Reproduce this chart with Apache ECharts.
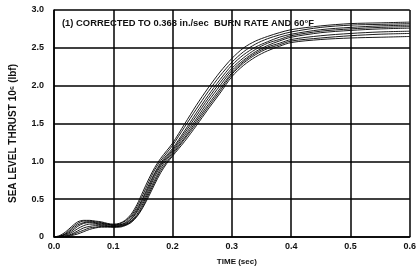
<!DOCTYPE html>
<html>
<head>
<meta charset="utf-8">
<script src="https://cdn.jsdelivr.net/npm/echarts@6/dist/echarts.min.js"></script>
<style>
  html, body { margin: 0; padding: 0; background: #fff; }
  #chart { width: 419px; height: 271px; }
</style>
</head>
<body>
<div id="chart"></div>
<script>
    // time points (sec)
    var times = [0, 0.01, 0.02, 0.03, 0.04, 0.05, 0.06, 0.07, 0.08, 0.09, 0.10, 0.11, 0.12, 0.13, 0.14,
        0.15, 0.16, 0.17, 0.18, 0.19, 0.20, 0.22, 0.24, 0.26, 0.28, 0.30, 0.32, 0.34, 0.36, 0.38,
        0.40, 0.45, 0.50, 0.55, 0.60];

    // thrust, 10^6 lbf, one array per motor
    var motorA = [0, 0.02, 0.07, 0.14, 0.20, 0.22, 0.22, 0.21, 0.20, 0.18, 0.17, 0.18, 0.22, 0.30, 0.43,
        0.60, 0.77, 0.92, 1.04, 1.14, 1.24, 1.49, 1.74, 1.97, 2.18, 2.36, 2.50, 2.59, 2.65, 2.70,
        2.74, 2.79, 2.82, 2.83, 2.84];
    var motorB = [0, 0.01, 0.05, 0.12, 0.18, 0.21, 0.21, 0.20, 0.19, 0.17, 0.16, 0.17, 0.21, 0.28, 0.40,
        0.56, 0.73, 0.89, 1.01, 1.11, 1.21, 1.45, 1.69, 1.92, 2.13, 2.31, 2.45, 2.55, 2.62, 2.67,
        2.71, 2.77, 2.80, 2.81, 2.82];
    var motorC = [0, 0.01, 0.04, 0.10, 0.16, 0.19, 0.20, 0.19, 0.18, 0.17, 0.16, 0.16, 0.19, 0.26, 0.37,
        0.52, 0.69, 0.85, 0.98, 1.08, 1.17, 1.40, 1.64, 1.87, 2.08, 2.27, 2.41, 2.51, 2.58, 2.64,
        2.68, 2.74, 2.77, 2.79, 2.80];
    var motorD = [0, 0.01, 0.03, 0.08, 0.14, 0.18, 0.19, 0.18, 0.17, 0.16, 0.15, 0.16, 0.18, 0.24, 0.35,
        0.50, 0.66, 0.83, 0.96, 1.06, 1.15, 1.37, 1.60, 1.83, 2.04, 2.23, 2.37, 2.48, 2.56, 2.61,
        2.66, 2.72, 2.75, 2.77, 2.78];
    var motorE = [0, 0.00, 0.02, 0.06, 0.11, 0.15, 0.17, 0.17, 0.16, 0.15, 0.14, 0.15, 0.17, 0.23, 0.33,
        0.47, 0.63, 0.80, 0.94, 1.04, 1.13, 1.34, 1.56, 1.79, 2.00, 2.20, 2.34, 2.45, 2.53, 2.59,
        2.64, 2.70, 2.73, 2.75, 2.76];
    var motorF = [0, 0.00, 0.01, 0.04, 0.08, 0.12, 0.14, 0.15, 0.15, 0.14, 0.14, 0.14, 0.16, 0.21, 0.30,
        0.44, 0.60, 0.76, 0.91, 1.02, 1.11, 1.31, 1.53, 1.75, 1.96, 2.17, 2.32, 2.43, 2.51, 2.56,
        2.61, 2.66, 2.69, 2.71, 2.72];
    var motorG = [0, 0.00, 0.01, 0.03, 0.06, 0.09, 0.12, 0.13, 0.14, 0.14, 0.13, 0.14, 0.16, 0.20, 0.28,
        0.41, 0.57, 0.73, 0.88, 0.99, 1.09, 1.29, 1.50, 1.72, 1.93, 2.15, 2.30, 2.41, 2.49, 2.54,
        2.59, 2.63, 2.66, 2.68, 2.69];
    var motorH = [0, 0.00, 0.00, 0.02, 0.04, 0.07, 0.10, 0.12, 0.13, 0.13, 0.13, 0.13, 0.15, 0.19, 0.27,
        0.39, 0.54, 0.70, 0.85, 0.97, 1.07, 1.26, 1.47, 1.69, 1.90, 2.12, 2.27, 2.38, 2.46, 2.52,
        2.57, 2.61, 2.63, 2.64, 2.65];

    var motors = [motorA, motorB, motorC, motorD, motorE, motorF, motorG, motorH];

    var note = '(1) CORRECTED TO 0.368 in./sec  BURN RATE AND 60\u00B0F';

    var font = 'Liberation Sans';

    function build_series() {
        return motors.map(function (vals) {
            return {
                type: 'line',
                data: times.map(function (t, i) { return [t, vals[i]]; }),
                smooth: 0.3,
                showSymbol: false,
                lineStyle: { color: '#000', width: 0.9 }
            };
        });
    }

    var chart = echarts.init(document.getElementById('chart'));
    chart.setOption({
        animation: false,
        grid: { left: 49, right: 6, top: 10, bottom: 26 },
        title: {
            text: note,
            left: 57,
            top: 14,
            textStyle: { fontFamily: font, fontSize: 9.4, fontWeight: 'bold', color: '#111' }
        },
        xAxis: {
            type: 'value',
            min: 0, max: 0.6, interval: 0.1,
            name: 'TIME (sec)',
            nameLocation: 'middle',
            nameGap: 21,
            nameTextStyle: { fontFamily: font, fontSize: 8, fontWeight: 'bold', color: '#111', padding: [0, 0, 0, 10] },
            axisLine: { lineStyle: { color: '#000', width: 1.5 } },
            axisTick: { show: false },
            axisLabel: {
                fontFamily: font, fontSize: 9, fontWeight: 'bold', color: '#111', margin: 5,
                formatter: function (v) { return v.toFixed(1); }
            },
            splitLine: { show: true, lineStyle: { color: '#000', width: 1.5 } }
        },
        yAxis: {
            type: 'value',
            min: 0, max: 3, interval: 0.5,
            name: 'SEA LEVEL THRUST 10\u2076 (lbf)',
            nameLocation: 'middle',
            nameGap: 36,
            nameTextStyle: { fontFamily: font, fontSize: 10, fontWeight: 'bold', color: '#111', padding: [0, 20, 0, 0] },
            axisLine: { show: true, lineStyle: { color: '#000', width: 1.5 } },
            axisTick: { show: false },
            axisLabel: {
                fontFamily: font, fontSize: 9, fontWeight: 'bold', color: '#111', margin: 10,
                formatter: function (v) { return v === 0 ? '0' : v.toFixed(1); }
            },
            splitLine: { show: true, lineStyle: { color: '#000', width: 1.5 } }
        },
        series: build_series()
    });
</script>
</body>
</html>
